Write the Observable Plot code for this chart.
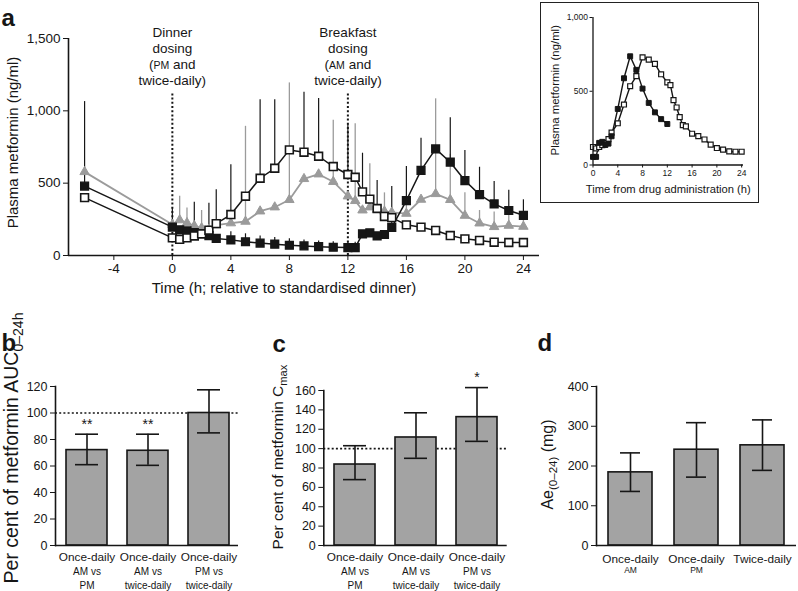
<!DOCTYPE html>
<html><head><meta charset="utf-8">
<script src="https://cdn.jsdelivr.net/npm/d3@7"></script>
<script src="https://cdn.jsdelivr.net/npm/@observablehq/plot@0.6"></script>
<style>
body{margin:0;background:#fff;}
#root{position:relative;width:798px;height:591px;overflow:hidden;background:#fff;}
#inset{position:absolute;left:540px;top:2px;width:219px;height:201px;border:1.5px solid #222;box-sizing:border-box;background:#fff;}
.wrap{position:absolute;}
.wrap svg{display:block;overflow:visible;}
</style></head><body><div id="root"><div id="inset"></div></div>
<script>
// ---------- data: panel a ----------
const times = [-6, 0, 0.5, 1, 1.5, 2, 2.5, 3, 4, 5, 6, 7, 8, 9, 10, 11, 12, 12.5, 13, 13.5, 14, 14.5, 15, 16, 17, 18, 19, 20, 21, 22, 23, 24];
const amOnce = [480, 196, 178, 170, 158, 150, 138, 118, 108, 95, 86, 78, 71, 66, 61, 57, 55, 55, 150, 157, 136, 145, 195, 380, 588, 737, 645, 518, 421, 357, 311, 278];
const pmOnce = [400, 122, 112, 122, 135, 150, 175, 220, 283, 410, 534, 603, 730, 714, 686, 615, 560, 541, 440, 390, 325, 270, 262, 212, 196, 173, 138, 115, 104, 92, 90, 90];
const twiceDaily = [578, 214, 245, 225, 205, 190, 180, 210, 224, 235, 306, 334, 385, 530, 562, 510, 410, 378, 313, 334, 318, 305, 298, 290, 387, 426, 385, 276, 223, 198, 207, 200];
const amOnceTop = [1064, 330, null, null, 368, null, 361, null, 165, 150, 135, 125, 115, 108, 100, 95, 92, 92, null, null, null, null, 477, 615, 811, null, 952, 725, 610, 512, 451, 385];
const pmOnceTop = [null, null, null, null, null, null, null, 454, 628, null, 1076, 1076, null, 1129, 1085, null, 905, null, 707, null, 518, null, null, null, null, null, null, null, null, null, null, null];
const twiceTop = [null, null, 410, 329, null, 311, null, null, null, 893, null, null, 1193, null, null, 935, null, 910, null, 634, null, 433, null, 410, null, 1083, 700, 433, 311, 300, 290, 285];
const mainXTicks = [-4, 0, 4, 8, 12, 16, 20, 24];
const mainYTicks = [0, 500, 1000, 1500];
const dosingTimes = [0, 12];
const dosingLabels = ["Dinner\ndosing\n(PM and\ntwice-daily)", "Breakfast\ndosing\n(AM and\ntwice-daily)"];
const mainYLabel = "Plasma metformin (ng/ml)";
const mainXLabel = "Time (h; relative to standardised dinner)";
// inset
const insetXTicks = [0, 4, 8, 12, 16, 20, 24];
const insetYTicks = [0, 500, 1000];
const insetXLabel = "Time from drug administration (h)";
const breakfastShift = 12;

// ---------- data: panels b, c, d ----------
const bKeys = ["am-pm", "am-twice", "pm-twice"];
const bLine1 = ["Once-daily", "Once-daily", "Once-daily"];
const bLine2 = ["AM vs", "AM vs", "PM vs"];
const bLine3 = ["PM", "twice-daily", "twice-daily"];
const bMean = [72, 71.5, 100];
const bLow = [61, 60.5, 85];
const bHigh = [84, 84, 117.5];
const bStars = ["**", "**", ""];
const bTicks = [0, 20, 40, 60, 80, 100, 120];
const bLabel = "Per cent of metformin AUC_{0–24h}";

const cKeys = bKeys;
const cLine1 = bLine1, cLine2 = bLine2, cLine3 = bLine3;
const cMean = [83.6, 111.5, 132.5];
const cLow = [68, 90, 107.5];
const cHigh = [103, 137, 163];
const cStars = ["", "", "*"];
const cTicks = [0, 20, 40, 60, 80, 100, 120, 140, 160];
const cLabel = "Per cent of metformin C_{max}";

const dKeys = ["am", "pm", "twice"];
const dLine1 = ["Once-daily", "Once-daily", "Twice-daily"];
const dLine2 = ["AM", "PM", ""];
const dLine3 = ["", "", ""];
const dMean = [184, 241, 252];
const dLow = [136, 172, 189];
const dHigh = [233, 309, 316];
const dStars = ["", "", ""];
const dTicks = [0, 100, 200, 300, 400];
const dLabel = "Ae_{(0–24)} (mg)";

// ---------- styling ----------
const FONT = '"Liberation Sans", Arial, Helvetica, sans-serif';
const INK = "#161616";
const GRAY = "#9b9b9b";
const BAR = "#a3a3a3";
const SVGNS = "http://www.w3.org/2000/svg";
const root = document.getElementById("root");

function place(node, left, top, parent = root) {
  const w = document.createElement("div");
  w.className = "wrap";
  w.style.left = left + "px";
  w.style.top = top + "px";
  w.appendChild(node);
  parent.appendChild(w);
}
function leafTexts(svg) {
  return [...svg.querySelectorAll("text, tspan")].filter(el => el.childElementCount === 0);
}
function smallCaps(svg, ratio) {
  for (const el of leafTexts(svg)) {
    const s = el.textContent;
    if (!/\b(AM|PM)\b/.test(s)) continue;
    el.textContent = "";
    for (const part of s.split(/\b(AM|PM)\b/)) {
      if (!part) continue;
      if (part === "AM" || part === "PM") {
        const ts = document.createElementNS(SVGNS, "tspan");
        ts.setAttribute("font-size", ratio + "em");
        ts.textContent = part;
        el.appendChild(ts);
      } else el.appendChild(document.createTextNode(part));
    }
  }
}
function subscripts(svg, ratio = 0.72, shift = 0.26) {
  for (const el of leafTexts(svg)) {
    const s = el.textContent;
    const m = s.match(/^(.*?)_\{(.*?)\}(.*)$/);
    if (!m) continue;
    el.textContent = m[1];
    const sub = document.createElementNS(SVGNS, "tspan");
    sub.setAttribute("font-size", ratio + "em");
    sub.setAttribute("dy", (shift / ratio).toFixed(3) + "em");
    sub.textContent = m[2];
    el.appendChild(sub);
    if (m[3]) {
      const rest = document.createElementNS(SVGNS, "tspan");
      rest.setAttribute("dy", (-shift) + "em");
      rest.textContent = m[3];
      el.appendChild(rest);
    }
  }
}

// ---------- panel a ----------
const series = (vals, tops) => times.map((t, i) => ({t, v: vals[i], top: tops[i]}));
const amRows = series(amOnce, amOnceTop);
const pmRows = series(pmOnce, pmOnceTop);
const twRows = series(twiceDaily, twiceTop);
const withTop = rows => rows.filter(d => d.top != null);
const xMin = -7.1;

const mainPlot = Plot.plot({
  width: 545, height: 300,
  marginLeft: 68, marginRight: 6, marginTop: 38, marginBottom: 45,
  style: {fontFamily: FONT, fontSize: "13.5px", color: INK, background: "transparent", overflow: "visible"},
  x: {domain: [xMin, 25.1], ticks: mainXTicks, tickSize: 5, tickPadding: 3, tickFormat: d => String(d), label: null},
  y: {domain: [0, 1500], ticks: mainYTicks, tickSize: 5, tickPadding: 3, tickFormat: d3.format(","), label: null},
  marks: [
    Plot.ruleX(dosingTimes, {x: d => d, y1: 0, y2: 1120, stroke: INK, strokeWidth: 2, strokeDasharray: "2,2.2"}),
    Plot.ruleX(withTop(twRows), {x: "t", y1: "v", y2: "top", stroke: GRAY, strokeWidth: 1.3}),
    Plot.ruleX(withTop(amRows), {x: "t", y1: "v", y2: "top", stroke: INK, strokeWidth: 1.2}),
    Plot.ruleX(withTop(pmRows), {x: "t", y1: "v", y2: "top", stroke: INK, strokeWidth: 1.2}),
    Plot.line(twRows, {x: "t", y: "v", stroke: GRAY, strokeWidth: 1.8}),
    Plot.line(amRows, {x: "t", y: "v", stroke: INK, strokeWidth: 1.5}),
    Plot.line(pmRows, {x: "t", y: "v", stroke: INK, strokeWidth: 1.5}),
    Plot.dot(twRows, {x: "t", y: "v", symbol: "triangle", fill: GRAY, stroke: GRAY, strokeWidth: 1, r: 3.5}),
    Plot.dot(amRows, {x: "t", y: "v", symbol: "square", fill: INK, stroke: INK, strokeWidth: 1.4, r: 4.4}),
    Plot.dot(pmRows, {x: "t", y: "v", symbol: "square", fill: "#fff", stroke: INK, strokeWidth: 1.6, r: 4.4}),
    Plot.ruleX([xMin], {stroke: INK, strokeWidth: 1.6}),
    Plot.ruleY([0], {stroke: INK, strokeWidth: 1.6}),
    Plot.text(dosingTimes, {x: d => d, text: (d, i) => dosingLabels[i], frameAnchor: "top", lineAnchor: "top", dy: -12.6, fontSize: 13.5, lineHeight: 1.185, fill: INK}),
    Plot.text([mainYLabel], {text: d => d, frameAnchor: "left", textAnchor: "middle", lineAnchor: "middle", rotate: -90, dx: -55, dy: -4.5, fontSize: 15, fill: INK}),
    Plot.text([mainXLabel], {text: d => d, frameAnchor: "bottom", textAnchor: "middle", lineAnchor: "bottom", dx: -20, dy: 37, fontSize: 15, fill: INK}),
    Plot.text(["a"], {text: d => d, frameAnchor: "top-left", textAnchor: "start", lineAnchor: "bottom", dx: -67, dy: -13, fontSize: 24, fontWeight: "bold", fill: INK})
  ]
});
smallCaps(mainPlot, 0.78);
place(mainPlot, 0, 0);

// ---------- inset ----------
const insetPm = pmRows.filter(d => d.t >= 0);
const insetAm = amRows.filter(d => d.t >= breakfastShift).map(d => ({t: d.t - breakfastShift, v: d.v}));
const insetPlot = Plot.plot({
  width: 216, height: 198,
  marginLeft: 51.5, marginRight: 14, marginTop: 14, marginBottom: 36.5,
  style: {fontFamily: FONT, fontSize: "8.5px", color: INK, background: "transparent", overflow: "visible"},
  x: {domain: [0, 24.3], ticks: insetXTicks, tickSize: 3, tickPadding: 2, label: null},
  y: {domain: [0, 1000], ticks: insetYTicks, tickSize: 3, tickPadding: 2, tickFormat: d3.format(","), label: null},
  marks: [
    Plot.line(insetPm, {x: "t", y: "v", stroke: INK, strokeWidth: 1.4}),
    Plot.line(insetAm, {x: "t", y: "v", stroke: INK, strokeWidth: 1.4}),
    Plot.dot(insetPm, {x: "t", y: "v", symbol: "square", fill: "#fff", stroke: INK, strokeWidth: 1.2, r: 2.8}),
    Plot.dot(insetAm, {x: "t", y: "v", symbol: "square", fill: INK, stroke: INK, strokeWidth: 1, r: 2.8}),
    Plot.ruleX([0], {stroke: INK, strokeWidth: 1.3}),
    Plot.ruleY([0], {stroke: INK, strokeWidth: 1.3}),
    Plot.text([mainYLabel], {text: d => d, frameAnchor: "left", textAnchor: "middle", lineAnchor: "middle", rotate: -90, dx: -38, dy: -1, fontSize: 11.4, fill: INK}),
    Plot.text([insetXLabel], {text: d => d, frameAnchor: "bottom", textAnchor: "middle", lineAnchor: "bottom", dy: 28, fontSize: 11.2, fill: INK})
  ]
});
place(insetPlot, 0, 0, document.getElementById("inset"));

// ---------- bar panels ----------
function barPanel(o) {
  const rows = o.keys.map((k, i) => ({k, l1: o.line1[i], l2: o.line2[i], l3: o.line3[i], m: o.mean[i], lo: o.low[i], hi: o.high[i], s: o.stars[i]}));
  const marks = [];
  if (o.refLine) marks.push(Plot.ruleY([100], {stroke: INK, strokeWidth: 1.6, strokeDasharray: "2,2.2"}));
  marks.push(
    Plot.barY(rows, {x: "k", y: "m", fill: BAR, stroke: INK, strokeWidth: 1.6}),
    Plot.ruleX(rows, {x: "k", y1: "lo", y2: "hi", stroke: INK, strokeWidth: 1.6}),
    Plot.tickY(rows, {x: "k", y: "lo", insetLeft: o.cap, insetRight: o.cap, stroke: INK, strokeWidth: 1.6}),
    Plot.tickY(rows, {x: "k", y: "hi", insetLeft: o.cap, insetRight: o.cap, stroke: INK, strokeWidth: 1.6}),
    Plot.text(rows.filter(d => d.s), {x: "k", y: "hi", text: "s", lineAnchor: "bottom", dy: -5.5, fontSize: 14, fill: INK}),
    Plot.frame({anchor: "left", stroke: INK, strokeWidth: 1.6}),
    Plot.ruleY([0], {stroke: INK, strokeWidth: 1.6}),
    Plot.text(rows, {x: "k", text: "l1", frameAnchor: "bottom", textAnchor: "middle", lineAnchor: "bottom", dy: o.dy1, fontSize: 11.8, fill: INK}),
    Plot.text(rows.filter(d => d.l2), {x: "k", text: "l2", frameAnchor: "bottom", textAnchor: "middle", lineAnchor: "bottom", dy: o.dy2, fontSize: o.size2, fill: INK}),
    Plot.text(rows.filter(d => d.l3), {x: "k", text: "l3", frameAnchor: "bottom", textAnchor: "middle", lineAnchor: "bottom", dy: o.dy3, fontSize: 10, fill: INK}),
    Plot.text([o.letter], {text: d => d, frameAnchor: "top-left", textAnchor: "start", lineAnchor: "bottom", dx: o.letterDx, dy: o.letterDy, fontSize: 24, fontWeight: "bold", fill: INK}),
    Plot.text([o.label], {text: d => d, frameAnchor: "left", textAnchor: "middle", lineAnchor: "middle", rotate: -90, dx: o.labelDx, dy: o.labelDy, fontSize: o.labelSize, fill: INK})
  );
  const svg = Plot.plot({
    width: o.width, height: 291,
    marginLeft: o.ml, marginRight: o.mr, marginTop: o.mt, marginBottom: 46,
    style: {fontFamily: FONT, fontSize: "12.5px", color: INK, background: "transparent", overflow: "visible"},
    x: {type: "band", domain: o.keys, range: o.range, paddingInner: 0.328, paddingOuter: 0, axis: null},
    y: {domain: [0, o.yMax], ticks: o.ticks, tickSize: 5, tickPadding: 3, label: null},
    marks
  });
  subscripts(svg);
  place(svg, o.left, 300);
}

barPanel({keys: bKeys, line1: bLine1, line2: bLine2, line3: bLine3, mean: bMean, low: bLow, high: bHigh, stars: bStars,
  ticks: bTicks, yMax: 120, refLine: true, left: 0, width: 265, ml: 55, mr: 27, mt: 86, range: [66, 229], cap: 9,
  dy1: 15, dy2: 29, dy3: 43, size2: 10, letter: "b", letterDx: -54, letterDy: -36,
  label: bLabel, labelSize: 19.5, labelDx: -44, labelDy: -18});

barPanel({keys: cKeys, line1: cLine1, line2: cLine2, line3: cLine3, mean: cMean, low: cLow, high: cHigh, stars: cStars,
  ticks: cTicks, yMax: 160, refLine: true, left: 265, width: 265, ml: 58.3, mr: 23.3, mt: 90, range: [69, 232], cap: 9,
  dy1: 15, dy2: 29, dy3: 43, size2: 10, letter: "c", letterDx: -51.3, letterDy: -38.3,
  label: cLabel, labelSize: 15.5, labelDx: -46, labelDy: -11});

barPanel({keys: dKeys, line1: dLine1, line2: dLine2, line3: dLine3, mean: dMean, low: dLow, high: dHigh, stars: dStars,
  ticks: dTicks, yMax: 400, refLine: false, left: 530, width: 268, ml: 66, mr: 2, mt: 86, range: [77, 255], cap: 12,
  dy1: 17, dy2: 27, dy3: 40, size2: 8.5, letter: "d", letterDx: -59, letterDy: -36,
  label: dLabel, labelSize: 16, labelDx: -49, labelDy: -1.5});
</script></body></html>
